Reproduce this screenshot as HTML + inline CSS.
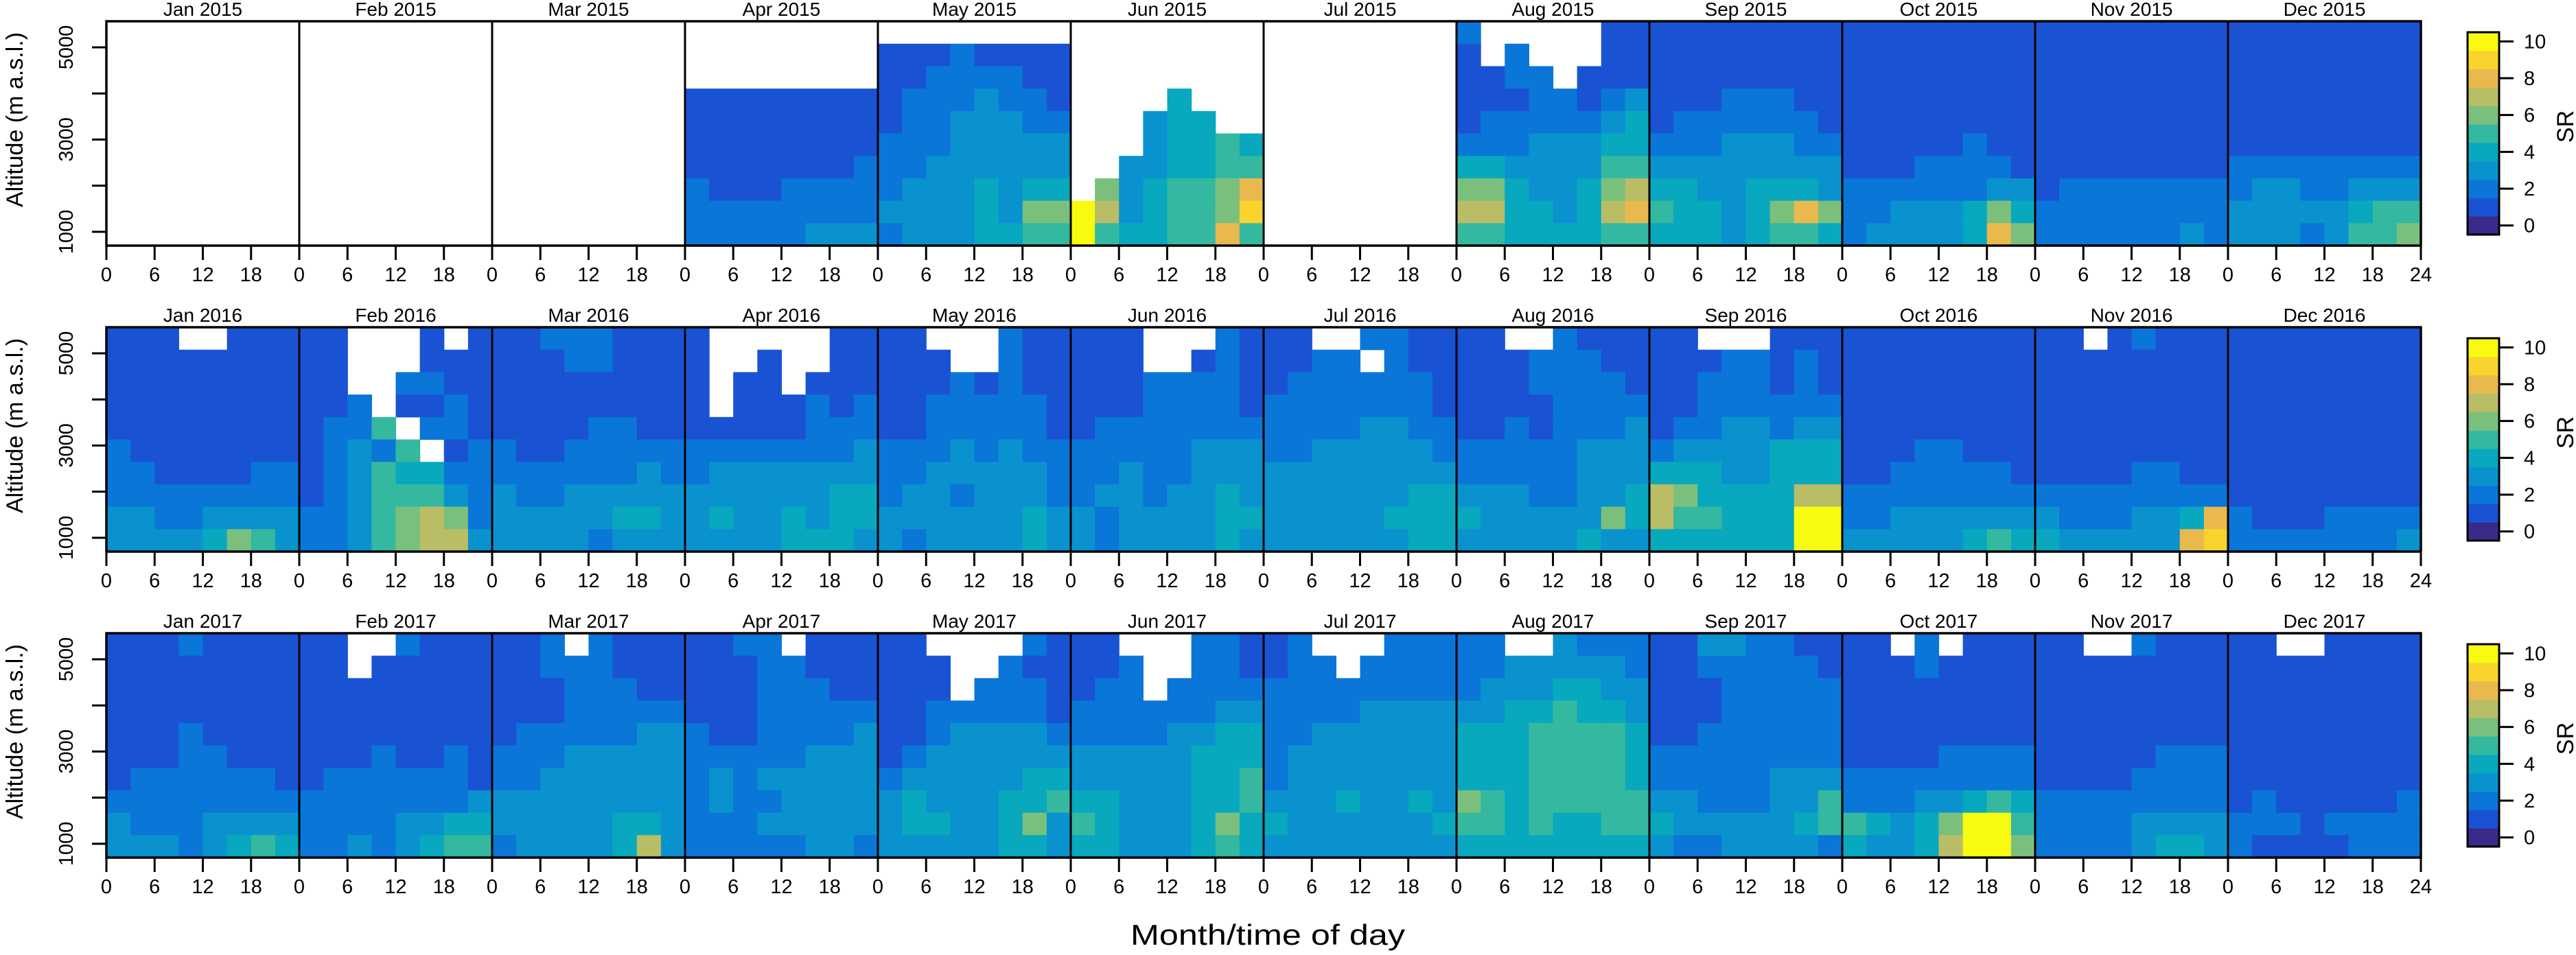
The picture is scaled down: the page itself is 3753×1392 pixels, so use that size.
<!DOCTYPE html>
<html><head><meta charset="utf-8"><style>
html,body{margin:0;padding:0;background:#fff;}
svg{display:block;font-family:"Liberation Sans",sans-serif;}
</style></head><body>
<svg id="chart" width="3753" height="1392" viewBox="0 0 3753 1392" xmlns="http://www.w3.org/2000/svg">
<text x="1847" y="1377" font-size="42" text-anchor="middle" textLength="400" lengthAdjust="spacingAndGlyphs">Month/time of day</text>
</svg>
<script>
const years = [2015, 2016, 2017];
const months = ["Jan","Feb","Mar","Apr","May","Jun","Jul","Aug","Sep","Oct","Nov","Dec"];
const hourTicks = [0, 6, 12, 18];
const altTicks = [1000, 2000, 3000, 4000, 5000];
const altLabels = [1000, 3000, 5000];
const srTicks = [0, 2, 4, 6, 8, 10];
const srLevels = [0,1,2,3,4,5,6,7,8,9,10];
const srColors = ["#3a2a8a","#1a52d4","#0a76d8","#0a92cf","#08a8be","#35b8a0","#7ac07c","#b9bd66","#e9b94e","#f9d32e","#f8fa10"];
const altMin = 700, altMax = 5565;
// each grid: 10 altitude bands (top -> bottom), 8 three-hour bins; '.' = missing, 'a' = 10
const E = "........";
const grids2015 = [
 [E,E,E,E,E,E,E,E,E,E],
 [E,E,E,E,E,E,E,E,E,E],
 [E,E,E,E,E,E,E,E,E,E],
 [E,E,E,"11111111","11111111","11111111","11111112","21112222","22222222","22222333"],
 [E,"11121111","11222211","12223221","12233322","22233333","22333333","23334344","33334366","23334455"],
 [E,E,E,"....4...","...344..","...34454","..334455",".6345568","a7345569","a5445585"],
 [E,E,E,E,E,E,E,E,E,E],
 ["2.....11","1.2...11","1122.111","11122123","12222234","22233344","44333355","66433467","77443478","55444455"],
 ["11111111","11111111","11111111","11122211","12222221","22233322","33333333","44334443","54434686","44434554"],
 ["11111111","11111111","11111111","11111111","11111111","11111211","11122221","22222233","22333464","23333486"],
 ["11111111","11111111","11111111","11111111","11111111","11111111","11111111","12222222","22222222","22222232"],
 ["11111111","11111111","11111111","11111111","11111111","11111111","22222222","23322333","33333455","33323556"]
];
const grids2016 = [
 ["111..111","11111111","11111111","11111111","11111111","21111111","22111122","22222222","33223333","33334653"],
 ["11...1.1","11...111","11..2211","112.1121","1225.221","12325.12","12354422","12355532","22356762","22356773"],
 ["11222111","11122111","11111111","11111111","11112211","21122222","22222232","32233333","33333443","33332333"],
 ["1.....11","1..1..11","1.11.111","1.111212","11111222","22222223","23333333","33333344","34334344","33334443"],
 ["11...211","111..211","11121211","11222221","11222221","22232322","22333332","23323332","33333343","32333343"],
 ["111...21","111..121","11122221","11122221","12222222","22222333","22322333","23323343","32333344","32333343"],
 ["11..2211","1122.211","12222221","22222221","22223322","22333332","33333333","33333344","33333444","33333344"],
 ["11..2111","11122211","11122221","11112222","11212223","22222333","22222333","33322334","43333364","33333433"],
 ["11...111","11122121","11222121","11222222","12233233","23333444","44433444","76444477","755444aa","444444aa"],
 ["11111111","11111111","11111111","11111111","11111111","11122111","11222221","22222222","22333333","33333454"],
 ["11.12111","11111111","11111111","11111111","11111111","11111111","11112211","22222222","32223348","43333389"],
 ["11111111","11111111","11111111","11111111","11111111","11111111","11111111","11111111","21112222","22222223"]
];
const grids2017 = [
 ["11121111","11111111","11111111","11111111","11121111","11122111","12222221","22222222","32223333","33323454"],
 ["11..2111","11.11111","11111111","11111111","11111111","11121121","12222221","22222223","22223344","22323455"],
 ["112.2111","11222111","11122211","11122222","12222233","22233333","22333333","33333333","33333443","23333473"],
 ["1122.111","11122111","11122211","11122222","21122223","22222333","23233333","23223333","22233333","22222332"],
 ["11....21","111..211","111.2221","11222221","11233332","12333333","23333344","34333445","34433463","33333443"],
 ["11...221","112..221","122.2222","22222233","22223344","33333444","33333445","44333445","54333464","44333454"],
 ["12...222","122.2222","22222222","22223333","22333333","23333333","23333333","33343343","43333334","33333333"],
 ["22..3222","22333332","23334433","33445443","44455554","44455554","44455554","65455555","55454455","44444444"],
 ["11332211","11222221","11122222","11122222","11222222","22222222","22222333","33222335","43333345","32233332"],
 ["11.2.111","11121111","11111111","11111111","11111111","11112222","22222222","22233454","54346aa5","43347aa6"],
 ["11..2111","11111111","11111111","11111111","11111111","11111222","11112222","22222222","22223333","22223443"],
 ["11..1111","11111111","11111111","11111111","11111111","11111111","11111111","12111112","22212222","21111222"]
];
const allGrids = [grids2015, grids2016, grids2017];

const NS = "http://www.w3.org/2000/svg";
const svg = document.getElementById("chart");
const plotLeft = 155, panelW = 281, rowTops = [31, 477, 923], rowH = 327;
const cbX = 3595, cbW = 46;
function xScale(p, h){ return plotLeft + p*panelW + h/24*panelW; }
function yScale(r, alt){ return rowTops[r] + (altMax - alt)/(altMax - altMin)*rowH; }
function mk(tag, attrs, parent){ const e=document.createElementNS(NS,tag); for(const k in attrs) e.setAttribute(k,attrs[k]); (parent||svg).appendChild(e); return e; }
function valOf(ch){ return ch==='a' ? 10 : parseInt(ch,10); }

years.forEach((yr, r) => {
  const g = mk("g", {});
  
  
  const grids = allGrids[r];
  for (let p=0; p<12; p++) {
    const pg = mk("g", {}, g);
    
    
    const grid = grids[p];
    const nb = grid.length;
    const bandAlt = (altMax - altMin)/nb;
    grid.forEach((row, b) => {
      const nc = row.length, hw = 24/nc;
      for (let c=0; c<nc; c++) {
        const ch = row[c];
        if (ch === '.') continue;
        const v = valOf(ch);
        const aTop = altMax - b*bandAlt, aBot = aTop - bandAlt;
        const x0 = xScale(p, c*hw), x1 = xScale(p, (c+1)*hw);
        const y0 = yScale(r, aTop), y1 = yScale(r, aBot);
        const rect = mk("rect", {x:x0.toFixed(2), y:y0.toFixed(2), width:(x1-x0+0.6).toFixed(2), height:(y1-y0+0.6).toFixed(2), fill:srColors[v]}, pg);
        
        
      }
    });
    const t = mk("text", {x:xScale(p,12), y:rowTops[r]-8, "font-size":28, "text-anchor":"middle"}, pg);
    t.textContent = months[p] + " " + yr;
    
    
    if (p>0) {
      const sep = mk("line", {x1:xScale(p,0), x2:xScale(p,0), y1:rowTops[r], y2:rowTops[r]+rowH, stroke:"#000", "stroke-width":3}, pg);
      
      
    }
    const ticks = p===11 ? hourTicks.concat([24]) : hourTicks;
    ticks.forEach(h => {
      const x = xScale(p,h), yb = rowTops[r]+rowH;
      const tk = mk("line", {x1:x, x2:x, y1:yb, y2:yb+21, stroke:"#000", "stroke-width":3}, pg);
      
      
      const tl = mk("text", {x:x, y:yb+52, "font-size":29, "text-anchor":"middle"}, pg);
      tl.textContent = h;
      
      
    });
  }
  const frame = mk("rect", {x:plotLeft, y:rowTops[r], width:12*panelW, height:rowH, fill:"none", stroke:"#000", "stroke-width":3.5}, g);
  
  
  // y axis
  altTicks.forEach(a => {
    const y = yScale(r,a);
    const tk = mk("line", {x1:plotLeft-21, x2:plotLeft, y1:y, y2:y, stroke:"#000", "stroke-width":3}, g);
    
    
  });
  altLabels.forEach(a => {
    const y = yScale(r,a);
    const tl = mk("text", {x:0, y:0, "font-size":29, "text-anchor":"middle", transform:"translate(106," + y + ") rotate(-90)"}, g);
    tl.textContent = a;
    
    
  });
  const yt = mk("text", {x:0, y:0, "font-size":34, "text-anchor":"middle", transform:"translate(33," + (rowTops[r]+rowH/2 - 20) + ") rotate(-90)"}, g);
  yt.textContent = "Altitude (m a.s.l.)";
  
  
  // colour bar
  const cb = mk("g", {}, g);
  
  
  const cbTop = rowTops[r]+16, cbBot = rowTops[r]+311;
  const binH = (cbBot-cbTop)/srLevels.length;
  function cbY(v){ return cbBot - (v+0.5)*binH; }
  srLevels.forEach((lv, i) => {
    const sw = mk("rect", {x:cbX, y:(cbY(lv)-binH/2).toFixed(2), width:cbW, height:(binH+0.5).toFixed(2), fill:srColors[i]}, cb);
    
    
  });
  const cbf = mk("rect", {x:cbX, y:cbTop, width:cbW, height:cbBot-cbTop, fill:"none", stroke:"#000", "stroke-width":3}, cb);
  
  
  srTicks.forEach(v => {
    const y = cbY(v);
    const tk = mk("line", {x1:cbX+cbW, x2:cbX+cbW+21, y1:y, y2:y, stroke:"#000", "stroke-width":3}, cb);
    
    
    const tl = mk("text", {x:cbX+cbW+36, y:y+10, "font-size":29}, cb);
    tl.textContent = v;
    
    
  });
  const sr = mk("text", {x:0, y:0, "font-size":34, "text-anchor":"middle", transform:"translate(3749," + (rowTops[r]+rowH/2 - 10) + ") rotate(-90)"}, cb);
  sr.textContent = "SR";
  
  
});
</script>
</body></html>
